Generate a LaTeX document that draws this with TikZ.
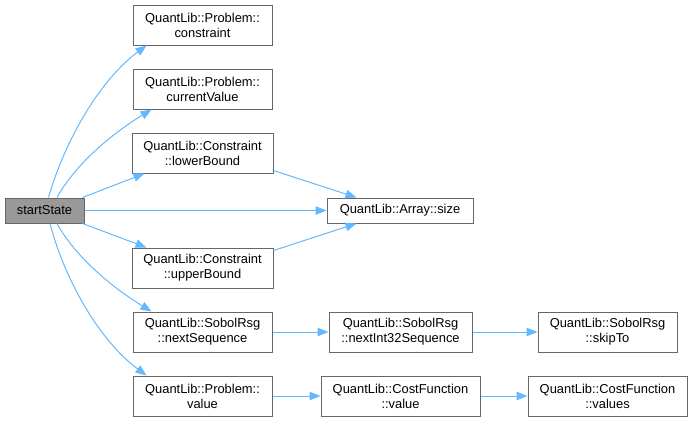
\documentclass[tikz,border=0pt]{standalone}
\usepackage{fontspec}
\setmainfont{Liberation Sans}
\usetikzlibrary{arrows.meta}
\definecolor{edgeblue}{HTML}{63B8FF}
\definecolor{boxborder}{HTML}{666666}
\definecolor{curfill}{HTML}{999999}
\begin{document}
\begin{tikzpicture}[x=1pt,y=-1pt,
  fn/.style={draw=boxborder, line width=1pt, fill=white, inner sep=0pt, align=center,
    font=\fontsize{12.9}{15}\selectfont, minimum height=40pt},
  cur/.style={fn, fill=curfill, minimum height=25pt},
  edge/.style={draw=edgeblue, line width=1pt, -{Triangle[length=11pt,width=8.5pt]}}]
\useasboundingbox (0,0) rectangle (692,421);
\node[cur, minimum width=79pt] (ss) at (44.5,210.5) {startState};
\node[fn, minimum width=139pt] (c1) at (202.5,25) {QuantLib::Problem::\\constraint};
\node[fn, minimum width=139pt] (c2) at (202.5,89) {QuantLib::Problem::\\currentValue};
\node[fn, minimum width=141pt] (c3) at (202.5,153) {QuantLib::Constraint\\::lowerBound};
\node[fn, minimum width=141pt] (c4) at (202.5,268) {QuantLib::Constraint\\::upperBound};
\node[fn, minimum width=139pt] (c5) at (202.5,332) {QuantLib::SobolRsg\\::nextSequence};
\node[fn, minimum width=139pt] (c6) at (202.5,396) {QuantLib::Problem::\\value};
\node[fn, minimum width=146pt, minimum height=25pt] (sz) at (400,210.5) {QuantLib::Array::size};
\node[fn, minimum width=143pt] (n32) at (400.5,332) {QuantLib::SobolRsg\\::nextInt32Sequence};
\node[fn, minimum width=139pt] (skip) at (607.5,332) {QuantLib::SobolRsg\\::skipTo};
\node[fn, minimum width=159pt] (cfv) at (400.5,396) {QuantLib::CostFunction\\::value};
\node[fn, minimum width=159pt] (cfvs) at (607.5,396) {QuantLib::CostFunction\\::values};

\draw[edge] ([xshift=4pt]ss.north) .. controls (65,140) and (100,80) .. ([xshift=14pt]c1.south west);
\draw[edge] ([xshift=12.5pt]ss.north) .. controls (75,165) and (110,135) .. ([xshift=19pt]c2.south west);
\draw[edge] ([xshift=-2pt]ss.north east) -- ([xshift=13pt]c3.south west);
\draw[edge] (ss) -- (sz);
\draw[edge] ([xshift=-2pt]ss.south east) -- ([xshift=15pt]c4.north west);
\draw[edge] ([xshift=12.5pt]ss.south) .. controls (75,256) and (110,286) .. ([xshift=19pt]c5.north west);
\draw[edge] ([xshift=5.5pt]ss.south) .. controls (65,281) and (100,341) .. ([xshift=14pt]c6.north west);
\draw[edge] ([yshift=3pt]c3.south east) -- ([xshift=30pt]sz.north west);
\draw[edge] ([yshift=-3pt]c4.north east) -- ([xshift=30pt]sz.south west);
\draw[edge] (c5) -- (n32);
\draw[edge] (n32) -- (skip);
\draw[edge] (c6) -- (cfv);
\draw[edge] (cfv) -- (cfvs);
\end{tikzpicture}
\end{document}
